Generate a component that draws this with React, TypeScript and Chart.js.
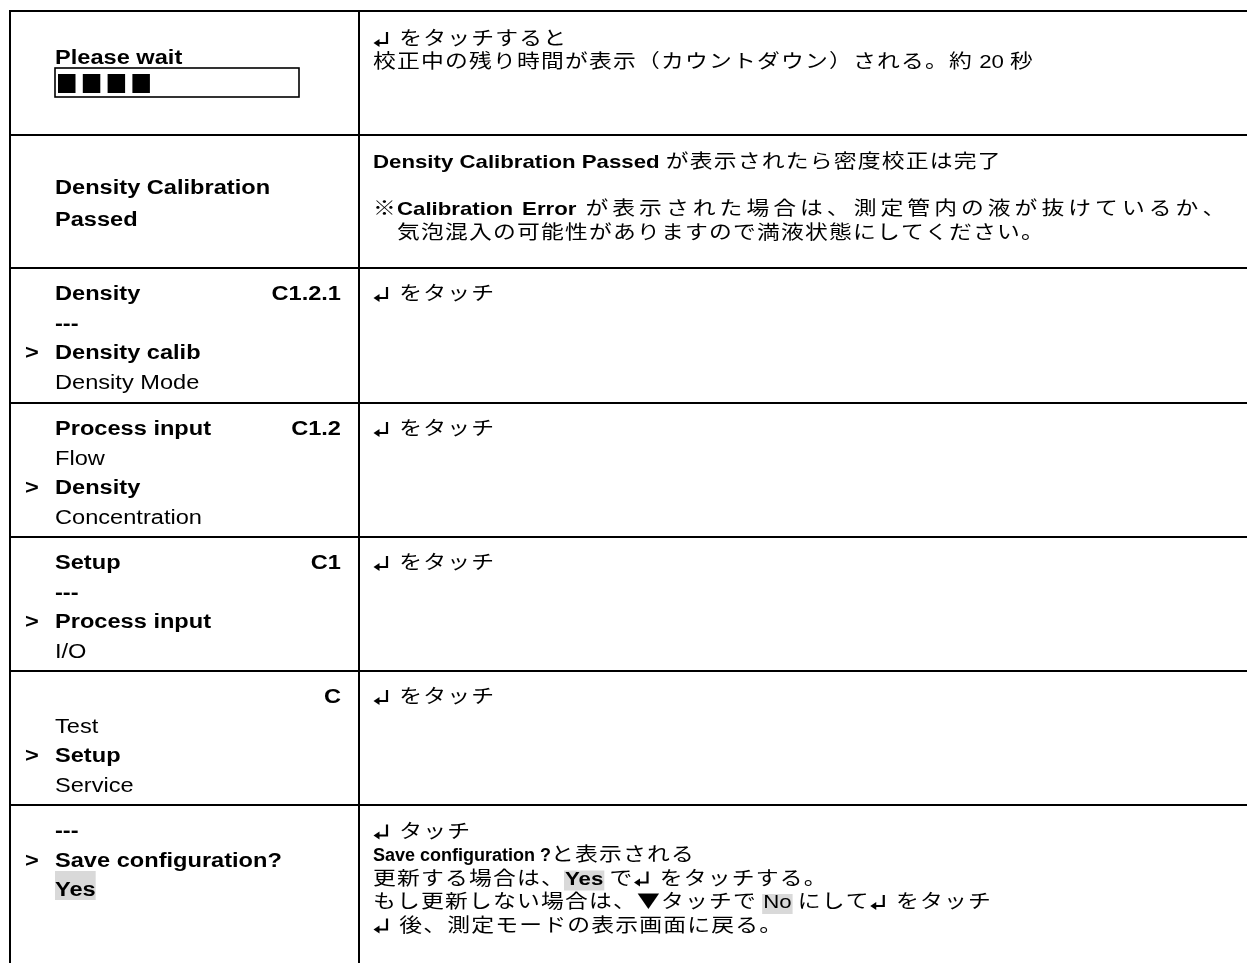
import React, { useEffect, useRef } from "react";
import { Chart, registerables } from "chart.js";

Chart.register(...registerables);

// ---------- content ----------
const leftTexts: string[][] = [
  ["**Please wait**", "#progress"],
  ["**Density Calibration**", "**Passed**"],
  ["**Density**|C1.2.1", "**---**", ">**Density calib**", "Density Mode"],
  ["**Process input**|C1.2", "Flow", ">**Density**", "Concentration"],
  ["**Setup**|C1", "**---**", ">**Process input**", "I/O"],
  ["|C", "Test", ">**Setup**", "Service"],
  ["**---**", ">**Save configuration?**", "[[**Yes**]]"],
];

const rightTexts: string[][] = [
  ["↲ をタッチすると", "校正中の残り時間が表示（カウントダウン）される。約 20 秒"],
  [
    "**Density Calibration Passed** が表示されたら密度校正は完了",
    "",
    "※**Calibration Error** が表示された場合は、測定管内の液が抜けているか、",
    "　気泡混入の可能性がありますので満液状態にしてください。",
  ],
  ["↲ をタッチ"],
  ["↲ をタッチ"],
  ["↲ をタッチ"],
  ["↲ をタッチ"],
  [
    "↲ タッチ",
    "**Save configuration ?**と表示される",
    "更新する場合は、[[**Yes**]] で↲ をタッチする。",
    "もし更新しない場合は、▼タッチで [[No]] にして↲ をタッチ",
    "↲ 後、測定モードの表示画面に戻る。",
  ],
];

const progressBlocks = 4;

// ---------- layout ----------
const W = 1247;
const H = 963;
const rowEdges = [11, 135, 268, 403, 537, 671, 805];
const colEdges = [10, 359];
const tableRight = 1247;
const leftX = 55;
const markerX = 25;
const codeRight = 341;
const rightX = 373;
const leftLayout = [
  { first: 53, step: 32 },
  { first: 59, step: 32 },
  { first: 32, step: 29.5 },
  { first: 32, step: 29.5 },
  { first: 32, step: 29.5 },
  { first: 32, step: 29.5 },
  { first: 32, step: 29.5 },
];
const rightLayout = [
  { first: 34, step: 23.3 },
  { first: 33, step: 23.5 },
  { first: 32, step: 23.3 },
  { first: 32, step: 23.3 },
  { first: 32, step: 23.3 },
  { first: 32, step: 23.3 },
  { first: 32.5, step: 23.5 },
];
const justifyLines: Record<string, number> = { "1:2": 1228 };
const condensedLines = new Set(["6:1"]);

const FONT_LAT = '"Liberation Sans", Arial, Helvetica, sans-serif';
const FONT_JP = '"Noto Sans CJK JP", "Noto Sans CJK SC", sans-serif';
const HL = "#d9d9d9";
const ARROW_ADV = 20;

type Cfg = {
  latSize: number;
  latSx: number;
  jpSize: number;
  jpSx: number;
  jpGap: number;
  hlTop: number;
  hlBottom: number;
  hlPad: number;
};
const LEFT_CFG: Cfg = { latSize: 20, latSx: 1.18, jpSize: 19, jpSx: 1.2, jpGap: 1.2, hlTop: 25, hlBottom: 4, hlPad: 0 };
const RIGHT_CFG: Cfg = { latSize: 19, latSx: 1.17, jpSize: 19, jpSx: 1.2, jpGap: 1.2, hlTop: 14, hlBottom: 6, hlPad: 1 };
const RIGHT_CONDENSED: Cfg = { ...RIGHT_CFG, latSize: 18, latSx: 1.0 };

type Run = { text: string; bold: boolean; hl: boolean; kind: "lat" | "jp" | "arrow" };

function parse(line: string): Run[] {
  const runs: Run[] = [];
  let bold = false;
  let hl = false;
  let i = 0;
  while (i < line.length) {
    if (line.startsWith("**", i)) { bold = !bold; i += 2; continue; }
    if (line.startsWith("[[", i)) { hl = true; i += 2; continue; }
    if (line.startsWith("]]", i)) { hl = false; i += 2; continue; }
    const ch = line[i];
    const kind: Run["kind"] = ch === "↲" ? "arrow" : ch.charCodeAt(0) > 0x2000 ? "jp" : "lat";
    const last = runs[runs.length - 1];
    if (last && kind !== "arrow" && last.kind === kind && last.bold === bold && last.hl === hl) last.text += ch;
    else runs.push({ text: ch, bold, hl, kind });
    i++;
  }
  return runs;
}

const latFont = (bold: boolean, size: number) => `${bold ? "bold " : ""}${size}px ${FONT_LAT}`;
const jpFont = (bold: boolean, size: number) => `${bold ? "bold " : ""}${size}px ${FONT_JP}`;

function place(ctx: CanvasRenderingContext2D, runs: Run[], x0: number, cfg: Cfg, extra: number) {
  const out: { r: Run; x: number; w: number }[] = [];
  let x = x0;
  let units = 0;
  runs.forEach((r, i) => {
    const start = x;
    if (r.kind === "arrow") {
      x += ARROW_ADV;
    } else if (r.kind === "lat") {
      ctx.font = latFont(r.bold, cfg.latSize);
      x += ctx.measureText(r.text).width * cfg.latSx;
      const sp = (r.text.match(/ /g) || []).length;
      units += sp;
      x += sp * extra;
    } else {
      ctx.font = jpFont(r.bold, cfg.jpSize);
      for (const ch of r.text) {
        x += ctx.measureText(ch).width * cfg.jpSx + cfg.jpGap;
        if (i !== 0) { units++; x += extra; }
      }
    }
    out.push({ r, x: start, w: x - start });
  });
  return { out, end: x, units };
}

function drawArrow(ctx: CanvasRenderingContext2D, x: number, b: number) {
  ctx.save();
  ctx.strokeStyle = "#000";
  ctx.fillStyle = "#000";
  ctx.lineWidth = 2.2;
  ctx.beginPath();
  ctx.moveTo(x + 14, b - 13);
  ctx.lineTo(x + 14, b - 2);
  ctx.lineTo(x + 5, b - 2);
  ctx.stroke();
  ctx.beginPath();
  ctx.moveTo(x + 0.5, b - 2);
  ctx.lineTo(x + 6.5, b - 6);
  ctx.lineTo(x + 6.5, b + 2);
  ctx.closePath();
  ctx.fill();
  ctx.restore();
}

function drawRich(ctx: CanvasRenderingContext2D, line: string, x0: number, baseline: number, cfg: Cfg, justifyTo?: number) {
  const runs = parse(line);
  let extra = 0;
  if (justifyTo !== undefined) {
    const nat = place(ctx, runs, x0, cfg, 0);
    if (nat.units > 0) extra = Math.max(0, (justifyTo - (nat.end - cfg.jpGap)) / nat.units);
  }
  const { out } = place(ctx, runs, x0, cfg, extra);
  for (const p of out) {
    if (p.r.hl) {
      ctx.fillStyle = HL;
      ctx.fillRect(p.x - cfg.hlPad, baseline - cfg.hlTop, p.w + 2 * cfg.hlPad, cfg.hlTop + cfg.hlBottom);
    }
  }
  ctx.fillStyle = "#000";
  out.forEach((p, i) => {
    const r = p.r;
    if (r.kind === "arrow") {
      drawArrow(ctx, p.x, baseline);
    } else if (r.kind === "lat") {
      ctx.font = latFont(r.bold, cfg.latSize);
      let x = p.x;
      for (const tok of r.text.split(/( )/)) {
        if (!tok) continue;
        if (tok === " ") { x += ctx.measureText(" ").width * cfg.latSx + extra; continue; }
        ctx.save();
        ctx.translate(x, baseline);
        ctx.scale(cfg.latSx, 1);
        ctx.fillText(tok, 0, 0);
        ctx.restore();
        x += ctx.measureText(tok).width * cfg.latSx;
      }
    } else {
      ctx.font = jpFont(r.bold, cfg.jpSize);
      let x = p.x;
      for (const ch of r.text) {
        ctx.save();
        ctx.translate(x, baseline);
        ctx.scale(cfg.jpSx, 1);
        ctx.fillText(ch, 0, 0);
        ctx.restore();
        x += ctx.measureText(ch).width * cfg.jpSx + cfg.jpGap + (i !== 0 ? extra : 0);
      }
    }
  });
}

const tablePlugin = {
  id: "tableText",
  afterDraw(chart: any) {
    const ctx: CanvasRenderingContext2D = chart.ctx;
    const sx = chart.scales.x;
    const sy = chart.scales.y;
    const px = (v: number) => sx.getPixelForValue(v);
    const py = (v: number) => sy.getPixelForValue(v);
    ctx.save();
    ctx.textBaseline = "alphabetic";
    ctx.textAlign = "left";

    // left column
    leftTexts.forEach((lines, r) => {
      const lay = leftLayout[r];
      lines.forEach((line, k) => {
        const base = py(rowEdges[r] + lay.first + k * lay.step);
        if (line === "#progress") {
          const x0 = px(leftX);
          ctx.strokeStyle = "#000";
          ctx.lineWidth = 1.6;
          ctx.strokeRect(x0, base - 28, px(299) - x0, 29);
          ctx.fillStyle = "#000";
          for (let b = 0; b < progressBlocks; b++) {
            ctx.fillRect(x0 + 3 + b * 24.8, base - 22, 17.5, 19);
          }
          return;
        }
        let main = line;
        let code = "";
        if (line.includes("|")) {
          [main, code] = line.split("|");
        }
        if (main.startsWith(">")) {
          main = main.slice(1);
          ctx.fillStyle = "#000";
          drawRich(ctx, "**>**", px(markerX), base, LEFT_CFG);
        }
        if (main) drawRich(ctx, main, px(leftX), base, LEFT_CFG);
        if (code) {
          ctx.font = latFont(true, LEFT_CFG.latSize);
          const w = ctx.measureText(code).width * LEFT_CFG.latSx;
          drawRich(ctx, `**${code}**`, px(codeRight) - w, base, LEFT_CFG);
        }
      });
    });

    // right column
    rightTexts.forEach((lines, r) => {
      const lay = rightLayout[r];
      lines.forEach((line, k) => {
        if (!line) return;
        const key = `${r}:${k}`;
        const base = py(rowEdges[r] + lay.first + k * lay.step);
        const cfg = condensedLines.has(key) ? RIGHT_CONDENSED : RIGHT_CFG;
        const j = justifyLines[key];
        drawRich(ctx, line, px(rightX), base, cfg, j !== undefined ? px(j) : undefined);
      });
    });
    ctx.restore();
  },
};

function buildGrid() {
  const ds: any[] = [];
  const common = {
    borderColor: "#000",
    borderWidth: 2,
    pointRadius: 0,
    borderCapStyle: "square",
    fill: false,
    tension: 0,
  };
  rowEdges.forEach((y) => {
    ds.push({ ...common, data: [{ x: colEdges[0], y }, { x: tableRight, y }] });
  });
  colEdges.forEach((x) => {
    ds.push({ ...common, data: [{ x, y: rowEdges[0] }, { x, y: H }] });
  });
  return ds;
}

export default function App() {
  const ref = useRef<HTMLCanvasElement | null>(null);
  useEffect(() => {
    if (!ref.current) return;
    const chart = new Chart(ref.current, {
      type: "line",
      data: { datasets: buildGrid() },
      options: {
        responsive: false,
        animation: false,
        events: [],
        layout: { padding: 0 },
        plugins: { legend: { display: false }, tooltip: { enabled: false } },
        scales: {
          x: { type: "linear", min: 0, max: W, display: false },
          y: { type: "linear", min: 0, max: H, reverse: true, display: false },
        },
      } as any,
      plugins: [tablePlugin],
    });
    return () => chart.destroy();
  }, []);
  return (
    <div style={{ position: "absolute", left: 0, top: 0, width: W, height: H, background: "#fff" }}>
      <canvas ref={ref} width={W} height={H} style={{ display: "block" }} />
    </div>
  );
}
